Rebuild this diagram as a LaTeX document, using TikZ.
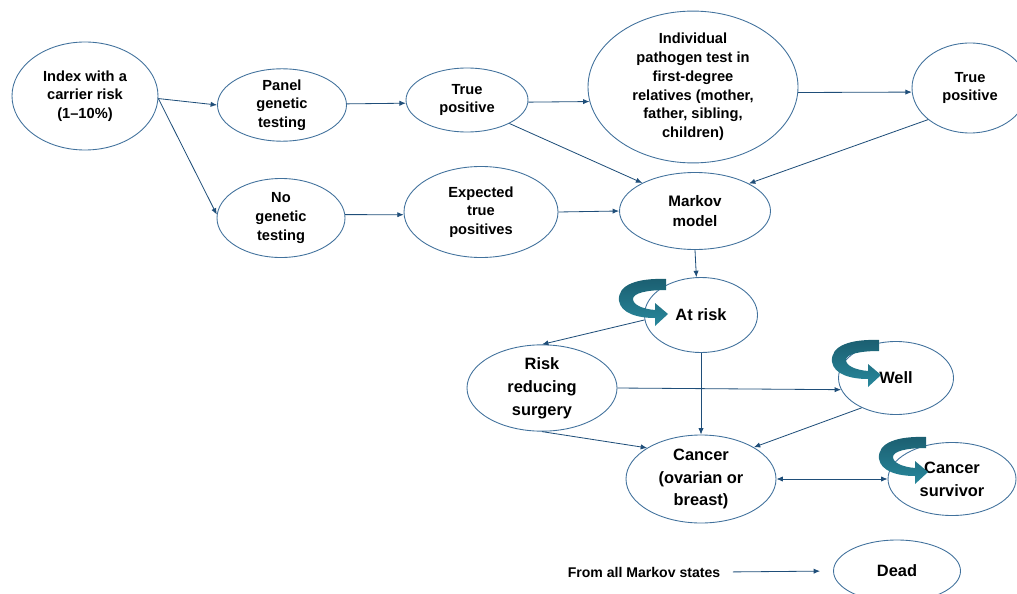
\documentclass[tikz,border=0pt]{standalone}
\usepackage{fontspec}
\setmainfont{Liberation Sans}
\usetikzlibrary{arrows.meta,shapes.geometric}
\definecolor{ellc}{RGB}{65,113,156}
\definecolor{arrc}{RGB}{31,78,121}
\definecolor{icdark}{RGB}{27,94,112}
\definecolor{iclight}{RGB}{40,136,156}
\begin{document}
\begin{tikzpicture}[x=0.03cm,y=-0.03cm,
  st/.style={ellipse, draw=ellc, line width=0.75pt, inner sep=0pt, align=center,
             font=\bfseries\fontsize{12.5}{16}\selectfont},
  big/.style={font=\bfseries\fontsize{14}{19.5}\selectfont},
  sz/.style 2 args={minimum width=#1*0.03cm, minimum height=#2*0.03cm},
  conn/.style={draw=arrc, line width=0.7pt, -{Latex[length=5.5pt,width=4.5pt]}},
  selfarrow/.pic={
    \shade[top color=icdark, bottom color=iclight]
      (-1,-35) .. controls (-28,-36) and (-50,-30) .. (-48,-13)
      .. controls (-46,-1) and (-30,4) .. (-12,4)
      -- (-12,12) -- (1,0) -- (-12,-11) -- (-12,-4)
      .. controls (-24,-5) and (-34,-9) .. (-34,-15)
      .. controls (-34,-21) and (-20,-24) .. (-1,-24) -- cycle;
  }
]
\useasboundingbox (0,0) rectangle (1017,593);

% nodes
\node[st,sz={146}{108}] (index) at (85,96) {Index with a\\carrier risk\\(1–10\%)};
\node[st,sz={129}{64}] (panel) at (282,105) {Panel\\genetic\\testing};
\node[st,sz={128}{79}] (nogen) at (281,218) {No\\genetic\\testing};
\node[st,sz={122}{64}] (tp1) at (467,100) {True\\positive};
\node[st,sz={154}{91}] (exp) at (481,212) {Expected\\true\\positives};
\node[st,sz={210}{147}] (indiv) at (693,87) {Individual\\pathogen test in\\first-degree\\relatives (mother,\\father, sibling,\\children)};
\node[st,sz={116}{90}] (tp2) at (970,88) {True\\positive};
\node[st,sz={151}{77},font=\bfseries\fontsize{13}{17}\selectfont] (markov) at (695,211) {Markov\\model};
\node[st,big,sz={113}{75}] (atrisk) at (701,315) {At risk};
\node[st,big,sz={150}{77}] (rrs) at (542,388) {Risk\\reducing\\surgery};
\node[st,big,sz={115}{73}] (well) at (896,378) {Well};
\node[st,big,sz={150}{88}] (cancer) at (701,479) {Cancer\\(ovarian or\\breast)};
\node[st,big,sz={128}{73}] (surv) at (952,479) {Cancer\\survivor};
\node[st,big,sz={127}{62}] (dead) at (897,571) {Dead};
\node[font=\bfseries\fontsize{12}{14}\selectfont, inner sep=2pt] (from) at (644,572) {From all Markov states};

% connectors
\draw[conn] (index.-2) -- (panel.180);
\draw[conn] (index.-2) -- (nogen.177);
\draw[conn] (panel.1) -- (tp1.183);
\draw[conn] (nogen.3) -- (exp.182);
\draw[conn] (tp1.-2) -- (indiv.188);
\draw[conn] (tp1.-29) -- (markov.152);
\draw[conn] (exp.east) -- (markov.west);
\draw[conn] (indiv.-3) -- (tp2.184);
\draw[conn] (tp2.217) -- (markov.27);
\draw[conn] (markov.south) -- (atrisk.97);
\draw[conn] (atrisk.185) -- (rrs.north);
\draw[conn] (atrisk.south) -- (cancer.north);
\draw[conn] (rrs.east) -- (well.192);
\draw[conn] (rrs.south) -- (cancer.150);
\draw[conn] (well.221) -- (cancer.31);
\draw[conn,{Latex[length=5.5pt,width=4.5pt]}-{Latex[length=5.5pt,width=4.5pt]}] (cancer.east) -- (surv.west);
\draw[conn,shorten <=0.3cm,shorten >=0.39cm] (from.east) -- (dead.west);

% self-transition icons
\pic at (667,314) {selfarrow};
\pic at (880,375) {selfarrow};
\pic at (927,472) {selfarrow};
\end{tikzpicture}
\end{document}
